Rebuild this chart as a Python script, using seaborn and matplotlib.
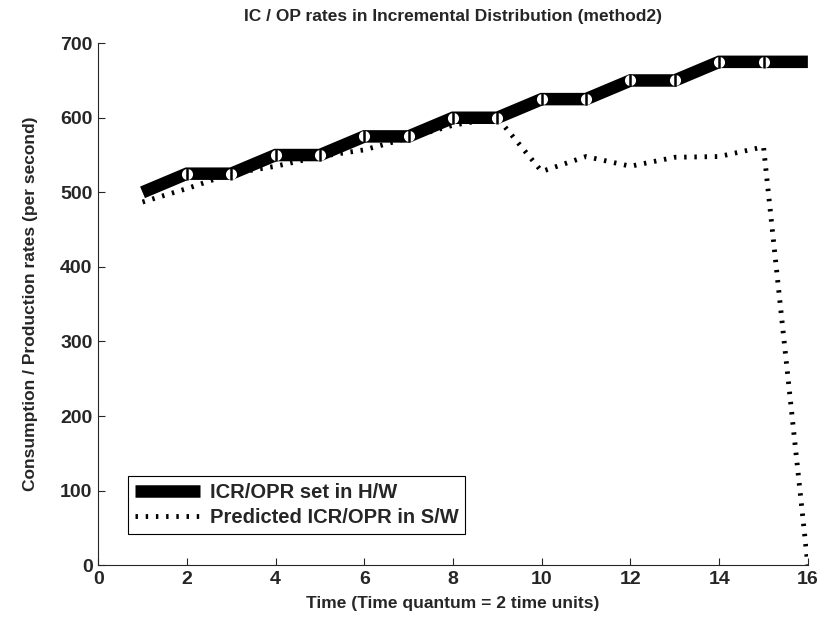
import matplotlib
matplotlib.use("Agg")
import matplotlib.pyplot as plt
import seaborn as sns
import pandas as pd
import numpy as np

time = [1, 2, 3, 4, 5, 6, 7, 8, 9, 10, 11, 12, 13, 14, 15, 16]
hw_rates = [500, 525, 525, 550, 550, 575, 575, 600, 600, 625, 625, 650, 650, 675, 675, 675]
sw_rates = [487, 505, 525, 535, 548, 557, 573, 590, 600, 528, 548, 535, 547, 548, 561, 0]
x_ticks = [0, 2, 4, 6, 8, 10, 12, 14, 16]
y_ticks = [0, 100, 200, 300, 400, 500, 600, 700]

sns.set_style("ticks")
plt.rcParams['font.family'] = ['Liberation Sans', 'DejaVu Sans']
plt.rcParams['xtick.direction'] = 'in'
plt.rcParams['ytick.direction'] = 'in'

df = pd.DataFrame({"time": time, "hw": hw_rates, "sw": sw_rates})

fig = plt.figure(figsize=(8.32, 6.17), dpi=100)
ax = fig.add_axes([0.118, 0.084, 0.853, 0.846])

sns.lineplot(data=df, x="time", y="hw", ax=ax, color="black", linewidth=9,
             label="ICR/OPR set in H/W", solid_joinstyle="miter", solid_capstyle="butt")
sns.lineplot(data=df, x="time", y="sw", ax=ax, color="black", linewidth=3.5,
             linestyle=(0, (0.5, 1.6)), dash_capstyle="butt",
             label="Predicted ICR/OPR in S/W")
mk = df.iloc[1:15]
ax.plot(mk["time"], mk["hw"], linestyle="none", marker="o", markersize=8,
        markerfacecolor="white", markeredgecolor="none")
ax.plot(mk["time"], mk["hw"], linestyle="none", marker="|", markersize=9,
        markeredgecolor="black", markeredgewidth=1.8)

ax.set_xlim(0, 16)
ax.set_ylim(0, 700)
ax.set_xticks(x_ticks)
ax.set_yticks(y_ticks)
ax.set_xticklabels([str(v) for v in x_ticks], fontsize=14, fontweight="bold")
ax.set_yticklabels([str(v) for v in y_ticks], fontsize=14, fontweight="bold")
ax.tick_params(length=5, width=0.8, pad=4)
sns.despine(ax=ax)
ax.set_xlabel("Time (Time quantum = 2 time units)", fontsize=12.5, fontweight="bold", labelpad=6)
ax.set_ylabel("Consumption / Production rates (per second)", fontsize=12.5, fontweight="bold", labelpad=16)
ax.set_title("IC / OP rates in Incremental Distribution (method2)", fontsize=12.5, fontweight="bold", pad=16)

leg = ax.legend(loc="lower left", bbox_to_anchor=(0.028, 0.04), fontsize=14.5,
                frameon=True, fancybox=False, edgecolor="black", framealpha=1,
                handlelength=3.2, borderpad=0.35, labelspacing=0.3, handletextpad=0.5)
for t in leg.get_texts():
    t.set_fontweight("bold")
leg.get_frame().set_linewidth(0.8)

fig.savefig("out.png", dpi=100)
